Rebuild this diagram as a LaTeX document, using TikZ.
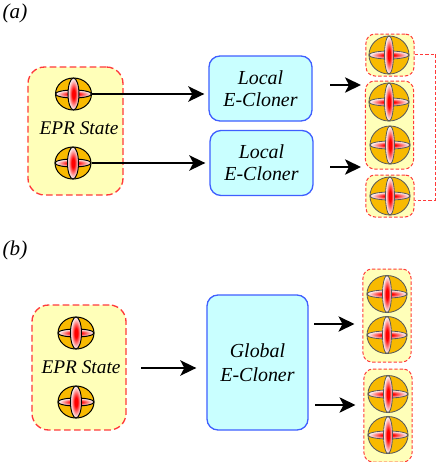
\documentclass[tikz,border=0pt]{standalone}
\usepackage{fontspec}
\setmainfont{Liberation Serif}
\usetikzlibrary{positioning,shapes.geometric,arrows.meta,calc}
\definecolor{pairyellow}{HTML}{FFFFB9}
\definecolor{pairred}{HTML}{FF3A3A}
\definecolor{clonerblue}{HTML}{3F5FFF}
\definecolor{clonerfill}{HTML}{C9FFFF}
\definecolor{qubitgold}{HTML}{F8BA00}
\pgfdeclareradialshading{barshade}{\pgfpoint{0bp}{0bp}}{
    color(0bp)=(red);
    color(7bp)=(red);
    color(19bp)=(red!30!white);
    color(25bp)=(white);
    color(50bp)=(white)
}

% one qubit: name, position, then the style of its outline
\newcommand{\qubitnode}[3]{
    \node[#3, qubitball] (#1) at (#2) {};
    \node[#3, qubitbar, minimum width=2*\qrx, minimum height=8*0.03cm] (#1h) at (#2) {};
    \node[#3, qubitbar, minimum width=2*\qvx, minimum height=2*\qry] (#1v) at (#2) {};
}

\begin{document}
\begin{tikzpicture}[
    x=0.03cm,
    y=-0.03cm,
    >=Stealth,
    pairbox/.style={
        draw=pairred,
        fill=pairyellow,
        line width=0.04cm,
        dash pattern=on 0.2cm off 0.1cm,
        rounded corners=0.5cm,
        inner sep=0pt
    },
    smallbox/.style={
        draw=pairred,
        fill=pairyellow,
        line width=0.03cm,
        dash pattern=on 0.1cm off 0.06cm,
        rounded corners=0.27cm,
        inner sep=0pt,
        minimum width=1.44cm
    },
    clonerbox/.style={
        draw=clonerblue,
        fill=clonerfill,
        line width=0.04cm,
        rounded corners=0.33cm,
        align=center,
        inner sep=0pt,
        font=\fontsize{17}{20}\selectfont\itshape
    },
    statelabel/.style={font=\fontsize{16.5}{18}\selectfont\itshape, inner sep=0pt},
    partlabel/.style={font=\fontsize{18}{20}\selectfont\itshape, inner sep=0pt},
    qubitball/.style={
        ellipse,
        fill=qubitgold,
        inner sep=0pt,
        minimum width=2*\qrx,
        minimum height=2*\qry
    },
    qubitbar/.style={
        ellipse,
        inner sep=0pt,
        shade,
        shading=barshade
    },
    bigqubit/.style={draw=black, line width=0.03cm},
    smallqubit/.style={draw=black!65, line width=0.025cm},
    mainarrow/.style={
        black,
        line width=0.06cm,
        -{Stealth[length=0.48cm,width=0.46cm,inset=0.12cm]},
        shorten >=4*0.03cm
    }
]
\useasboundingbox (0,0) rectangle (436,462);

% part (a)
\node[partlabel] (parta) at (15,13) {(a)};

\node[pairbox, minimum width=2.85cm, minimum height=3.84cm] (epra) at (75.5,131) {};
\node[statelabel] (epratext) at (79,128) {EPR State};

\node[clonerbox, minimum width=3.09cm, minimum height=1.95cm] (loca) at (260.5,88.5) {Local\\[-1pt]E-Cloner};
\node[clonerbox, minimum width=3.09cm, minimum height=1.95cm] (locb) at (261.5,163) {Local\\[-1pt]E-Cloner};

\node[smallbox, minimum height=1.26cm] (outa) at (390,55) {};
\node[smallbox, minimum height=2.64cm] (outb) at (389.5,125) {};
\node[smallbox, minimum height=1.26cm] (outc) at (390,196) {};

% qubits of the epr state
\def\qrx{18*0.03cm}\def\qry{16*0.03cm}\def\qvx{5.5*0.03cm}
\qubitnode{qa}{73.5,94}{bigqubit}
\qubitnode{qb}{73,163}{bigqubit}

% qubits of the copies
\def\qrx{20*0.03cm}\def\qry{19*0.03cm}\def\qvx{4.5*0.03cm}
\qubitnode{qc}{389,55}{smallqubit}
\qubitnode{qd}{389,102}{smallqubit}
\qubitnode{qe}{390,145}{smallqubit}
\qubitnode{qf}{390,196}{smallqubit}

% arrows of part (a)
\draw[mainarrow] (qa.east) -- (qa.east -| loca.west);
\draw[mainarrow] (qb.east) -- (qb.east -| locb.west);

\coordinate (starta) at (330,85);
\coordinate (startb) at (330,167);
\draw[mainarrow] (starta) -- (starta -| outb.west);
\draw[mainarrow] (startb) -- (startb -| outb.west);

% dashed link between the two outer copies
\coordinate (linktop) at (435.5,54);
\coordinate (linkbot) at (435.5,200);
\draw[pairred, line width=0.03cm, dash pattern=on 0.1cm off 0.06cm] (outa.east |- linktop) -- (linktop) -- (linkbot) -- (linkbot -| outc.east);

% part (b)
\node[partlabel] (partb) at (15,250) {(b)};

\node[pairbox, minimum width=2.82cm, minimum height=3.75cm] (eprb) at (79,367.5) {};
\node[statelabel] (eprbtext) at (81,367) {EPR State};

\node[clonerbox, minimum width=3.03cm, minimum height=4.05cm] (globc) at (257.5,362.5) {Global\\[1pt]E-Cloner};

\node[smallbox, minimum height=2.79cm] (outd) at (387,315.5) {};
\node[smallbox, minimum height=2.79cm] (oute) at (388,415.5) {};

\def\qrx{18*0.03cm}\def\qry{16*0.03cm}\def\qvx{5.5*0.03cm}
\qubitnode{qg}{76,333}{bigqubit}
\qubitnode{qh}{76,402}{bigqubit}

\def\qrx{20*0.03cm}\def\qry{18.5*0.03cm}\def\qvx{4.5*0.03cm}
\qubitnode{qi}{387,294}{smallqubit}
\qubitnode{qj}{387,335}{smallqubit}
\qubitnode{qk}{388,394}{smallqubit}
\qubitnode{ql}{388,435}{smallqubit}

% arrows of part (b)
\coordinate (startc) at (141,368);
\coordinate (startd) at (314,324);
\coordinate (starte) at (315,405);
\draw[mainarrow, shorten >=10*0.03cm] (startc) -- (startc -| globc.west);
\draw[mainarrow, shorten >=8*0.03cm] (startd) -- (startd -| outd.west);
\draw[mainarrow, shorten >=8*0.03cm] (starte) -- (starte -| oute.west);

\end{tikzpicture}
\end{document}
